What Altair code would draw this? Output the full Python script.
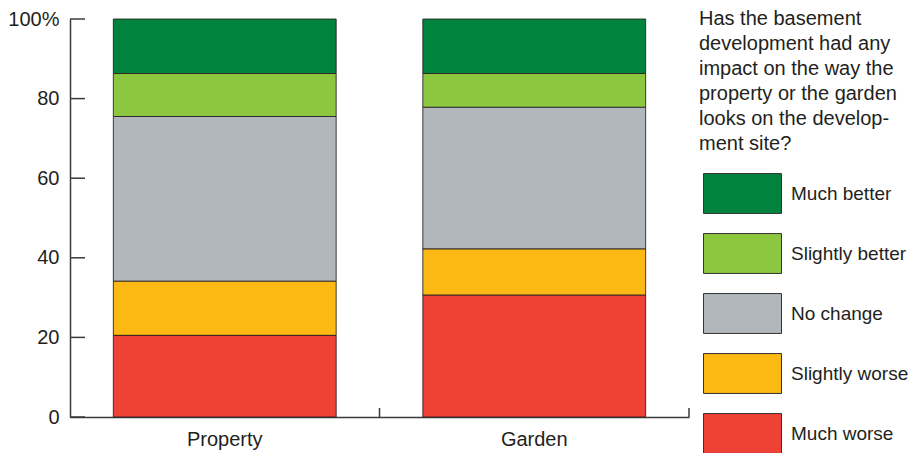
import altair as alt
import pandas as pd

categories = ["Property", "Garden"]
responses = ["Much better", "Slightly better", "No change", "Slightly worse", "Much worse"]
colors = ["#00843D", "#8DC63F", "#B1B7BA", "#FDB913", "#EF4136"]
stack_rank = [4, 3, 2, 1, 0]
property_values = [13.7, 10.8, 41.4, 13.6, 20.5]
garden_values = [13.7, 8.5, 35.6, 11.6, 30.6]
y_ticks = [0, 20, 40, 60, 80, 100]
legend_title = ["Has the basement", "development had any", "impact on the way the",
                "property or the garden", "looks on the develop-", "ment site?"]

rows = []
for cat, vals in zip(categories, [property_values, garden_values]):
    for r, v, k in zip(responses, vals, stack_rank):
        rows.append({"cat": cat, "response": r, "value": v, "rank": k})
df = pd.DataFrame(rows)

FONT = "Liberation Sans"
FS = 20
W, H = 619, 398

xscale = alt.Scale(domain=categories, paddingInner=0, paddingOuter=0)
yscale = alt.Scale(domain=[0, 100], nice=False)

bars = alt.Chart(df).mark_bar(
    width={"band": 0.72}, stroke="#231F20", strokeWidth=1, strokeOpacity=0.85
).encode(
    x=alt.X("cat:N", scale=xscale, sort=categories,
            axis=alt.Axis(title=None, labelAngle=0, ticks=False, tickSize=0,
                          labelPadding=12, labelFontSize=FS, labelFont=FONT,
                          labelColor="#231F20", domainColor="#3A3A3A", domainWidth=1.5)),
    y=alt.Y("value:Q", stack="zero", scale=yscale,
            axis=alt.Axis(title=None, values=y_ticks, grid=False, ticks=False, tickSize=0,
                          labelPadding=11, labelFontSize=FS, labelFont=FONT,
                          labelColor="#231F20", domainColor="#3A3A3A", domainWidth=1.5,
                          labelExpr="datum.value == 100 ? '100%' : datum.label")),
    color=alt.Color("response:N",
                    scale=alt.Scale(domain=responses, range=colors),
                    legend=alt.Legend(
                        title=legend_title, orient="none", legendX=629, legendY=-10,
                        titleFont=FONT, titleFontSize=FS, titleFontWeight="normal",
                        titleColor="#231F20", titleLineHeight=25, titlePadding=9,
                        titleLimit=400, labelLimit=400,
                        labelFont=FONT, labelFontSize=19, labelColor="#231F20",
                        symbolType="M-1.3,-0.665H1.3V0.665H-1.3Z", symbolSize=3600,
                        symbolStrokeColor="#333333", symbolStrokeWidth=1,
                        symbolOpacity=1, symbolOffset=13, labelOffset=18,
                        rowPadding=7, padding=0)),
    order=alt.Order("rank:Q", sort="ascending"),
)

tick_df = pd.DataFrame({"tick": y_ticks})
y_tick_rules = alt.Chart(tick_df).mark_rule(color="#3A3A3A", strokeWidth=1.5).encode(
    y=alt.Y("tick:Q", scale=yscale),
    x=alt.value(0), x2=alt.value(15),
)

cat_df = pd.DataFrame({"cat": categories})
x_tick_rules = alt.Chart(cat_df).mark_rule(color="#3A3A3A", strokeWidth=1.5).encode(
    x=alt.X("cat:N", scale=xscale, sort=categories, bandPosition=1),
    y=alt.value(H), y2=alt.value(H - 9),
)

chart = alt.layer(bars, y_tick_rules, x_tick_rules).properties(
    width=W, height=H,
    autosize=alt.AutoSizeParams(type="none"),
    padding={"left": 62, "top": 11, "right": 223, "bottom": 40},
).configure_view(stroke=None)

chart.save("out.html", embed_options={"renderer": "svg", "actions": False})
